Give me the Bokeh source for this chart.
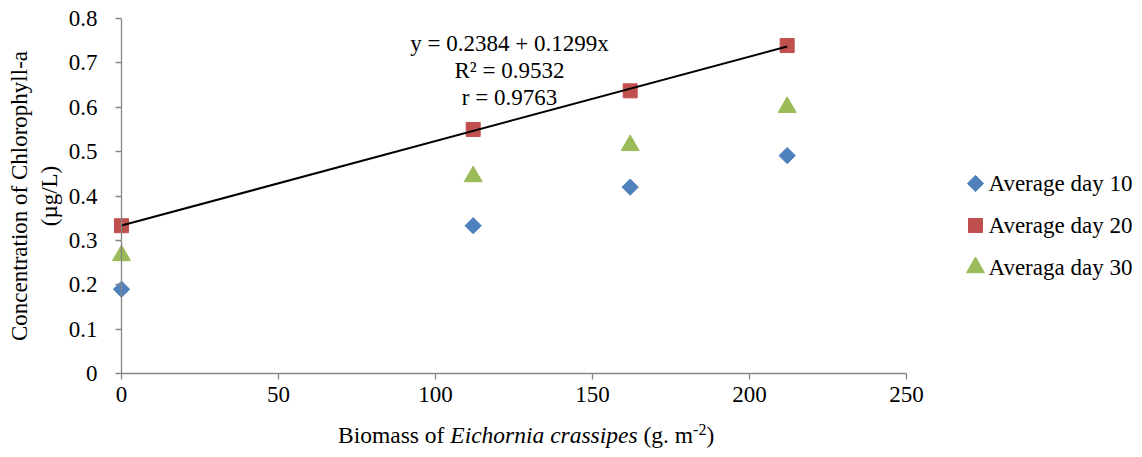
import numpy as np
from bokeh.plotting import figure
from bokeh.models import Range1d, FixedTicker, Label, Div, Span
from bokeh.layouts import column
from bokeh.embed import file_html
from bokeh.resources import INLINE

# ---------------- data ----------------
biomass = [0, 112, 162, 212]
day10 = [0.190, 0.333, 0.420, 0.491]
day20 = [0.333, 0.550, 0.637, 0.739]
day30 = [0.266, 0.444, 0.514, 0.600]
series_names = ["Average day 10", "Average day 20", "Averaga day 30"]
x_ticks = [0, 50, 100, 150, 200, 250]
y_ticks = [0, 0.1, 0.2, 0.3, 0.4, 0.5, 0.6, 0.7, 0.8]
equation_lines = ["y = 0.2384 + 0.1299x", "R\u00b2 = 0.9532", "r = 0.9763"]
y_title = "Concentration of Chlorophyll-a\n(\u00b5g/L)"

BLUE, RED, GREEN = "#4F81BD", "#C0504D", "#9BBB59"
AXIS_GRAY = "#868686"
FONT = "Liberation Serif"
FS = "23px"

# ---------------- layout ----------------
W, H = 1142, 420
DIV_H = 37
AX0, AX250 = 121, 906           # px of x=0 and x=250
TOP, BOTTOM = 18, 373           # px of y=0.8 and y=0
PAD = 16                        # frame starts a little left of x=0 so markers are not cut
PPX = (AX250 - AX0) / 250.0
PPY = (BOTTOM - TOP) / 0.8

def px_x(fx):
    return (fx - AX0) / PPX

def px_y(fy):
    return (BOTTOM - fy) / PPY

p = figure(width=W, height=H,
           x_range=Range1d(px_x(AX0 - PAD), px_x(W)),
           y_range=Range1d(0, 0.8),
           output_backend="svg", toolbar_location=None,
           min_border_left=AX0 - PAD, min_border_right=0,
           min_border_top=TOP, min_border_bottom=H - BOTTOM)
p.outline_line_color = None
p.grid.visible = False

for ax in (p.xaxis[0], p.yaxis[0]):
    ax.axis_line_color = AXIS_GRAY
    ax.axis_line_width = 1.3
    ax.major_tick_line_color = AXIS_GRAY
    ax.major_tick_line_width = 1.3
    ax.minor_tick_line_color = None
    ax.major_label_text_font = FONT
    ax.major_label_text_font_size = FS
    ax.major_label_text_color = "black"

p.xaxis.ticker = FixedTicker(ticks=x_ticks)
p.xaxis.bounds = (x_ticks[0], x_ticks[-1])
p.xaxis.major_tick_out = 6
p.xaxis.major_tick_in = 0
p.xaxis.major_label_standoff = 7

# y axis sits at the frame edge (PAD px left of x=0); its ticks are shifted onto x=0
p.yaxis.ticker = FixedTicker(ticks=y_ticks)
p.yaxis.axis_line_color = None
p.yaxis.major_tick_in = PAD
p.yaxis.major_tick_out = -(PAD - 6)
p.yaxis.major_label_standoff = PAD - 8
p.yaxis.major_label_overrides = {t: ("0" if t == 0 else f"{t:.1f}") for t in y_ticks}
p.yaxis.axis_label = y_title
p.yaxis.axis_label_text_font = FONT
p.yaxis.axis_label_text_font_size = FS
p.yaxis.axis_label_text_font_style = "normal"
p.yaxis.axis_label_text_color = "black"
p.yaxis.axis_label_standoff = 4
# vertical axis line at x = 0
p.add_layout(Span(location=0, dimension="height", line_color=AXIS_GRAY, line_width=1.3))

# ---------------- series ----------------
p.scatter(biomass, day10, marker="square", angle=np.pi / 4, size=11.5,
          fill_color=BLUE, line_color=BLUE)
p.scatter(biomass, day20, marker="square", size=14,
          fill_color=RED, line_color=RED)
p.scatter(biomass, day30, marker="triangle", size=18,
          fill_color=GREEN, line_color=GREEN)

# regression line fitted on day 20
slope, intercept = np.polyfit(biomass, day20, 1)
xs = [min(biomass), max(biomass)]
ys = [intercept + slope * v for v in xs]
p.line(xs, ys, line_color="black", line_width=2)

# equation text
eq_cx = px_x(509)
for i, t in enumerate(equation_lines):
    p.add_layout(Label(x=eq_cx, y=px_y(43 + 27 * i), text=t,
                       text_align="center", text_baseline="middle",
                       text_font=FONT, text_font_size=FS, text_color="black"))

# ---------------- legend (manual, inside the widened frame) ----------------
leg_x = px_x(975)
leg_tx = px_x(988)
leg_ys = [px_y(183), px_y(225), px_y(267)]
p.scatter([leg_x], [leg_ys[0]], marker="square", angle=np.pi / 4, size=11.5,
          fill_color=BLUE, line_color=BLUE)
p.scatter([leg_x], [leg_ys[1]], marker="square", size=14,
          fill_color=RED, line_color=RED)
p.scatter([leg_x], [leg_ys[2]], marker="triangle", size=18,
          fill_color=GREEN, line_color=GREEN)
for name, ly in zip(series_names, leg_ys):
    p.add_layout(Label(x=leg_tx, y=ly, text=name, text_align="left",
                       text_baseline="middle", text_font=FONT,
                       text_font_size=FS, text_color="black"))

# ---------------- x title (HTML for italic + superscript) ----------------
x_title_html = (
    '<div style="font-family:\'Liberation Serif\'; font-size:23.5px; line-height:30px; '
    'color:black; white-space:nowrap; padding-left:338px;">'
    'Biomass of <i>Eichornia crassipes</i> (g. m'
    '<span style="font-size:16px; vertical-align:8px; line-height:0;">-2</span>)'
    '</div>'
)
div = Div(text=x_title_html, width=W, height=DIV_H, margin=(0, 0, 0, 0))

layout = column(p, div, spacing=0)
open("out.html", "w").write(file_html(layout, INLINE))
